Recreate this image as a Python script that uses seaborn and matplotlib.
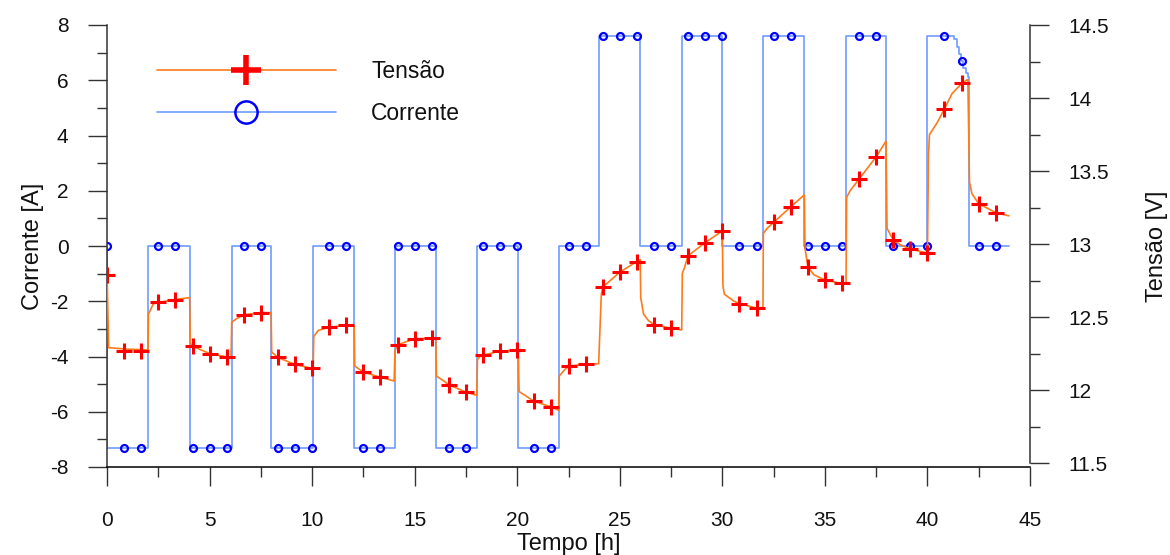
import numpy as np
import pandas as pd
import matplotlib
matplotlib.use("Agg")
import matplotlib.pyplot as plt
from matplotlib.lines import Line2D
from matplotlib.ticker import MultipleLocator
import seaborn as sns

# ---------------- data ----------------
# Current (A): step breakpoints (steps-post)
cur_t = [0, 0, 2.02, 4.05, 6.07, 8.02, 10.06, 12.06, 14.02, 16.04, 18.05, 20.06,
         22.04, 23.97, 26.0, 28.03, 30.0, 31.98, 34.0, 36.05, 38.0, 40.0,
         41.3, 41.45, 41.55, 41.64, 41.75, 41.9, 42.0, 42.03, 43.98]
cur_v = [0, -7.33, 0, -7.33, 0, -7.33, 0, -7.33, 0, -7.33, 0, -7.33,
         0, 7.6, 0, 7.6, 0, 7.6, 0, 7.6, 0, 7.6,
         7.5, 7.22, 6.95, 6.68, 6.45, 6.26, 6.13, 0, 0]

# marker samples (every 50 min)
mk_t = [0, 0.83, 1.67, 2.5, 3.33, 4.17, 5.0, 5.83, 6.67, 7.5, 8.33, 9.17, 10.0,
        10.83, 11.67, 12.5, 13.33, 14.17, 15.0, 15.83, 16.67, 17.5, 18.33, 19.17,
        20.0, 20.83, 21.67, 22.5, 23.33, 24.17, 25.0, 25.83, 26.67, 27.5, 28.33,
        29.17, 30.0, 30.83, 31.67, 32.5, 33.33, 34.17, 35.0, 35.83, 36.67, 37.5,
        38.33, 39.17, 40.0, 40.83, 41.67, 42.5, 43.33]
mk_cur = [0, -7.33, -7.33, 0, 0, -7.33, -7.33, -7.33, 0, 0, -7.33, -7.33, -7.33,
          0, 0, -7.33, -7.33, 0, 0, 0, -7.33, -7.33, 0, 0,
          0, -7.33, -7.33, 0, 0, 7.6, 7.6, 7.6, 0, 0, 7.6,
          7.6, 7.6, 0, 0, 7.6, 7.6, 0, 0, 0, 7.6, 7.6,
          0, 0, 0, 7.6, 6.68, 0, 0]
mk_volt = [12.79, 12.27, 12.27, 12.60, 12.62, 12.30, 12.25, 12.227, 12.516, 12.53,
           12.223, 12.175, 12.148, 12.43, 12.443, 12.123, 12.087, 12.31, 12.351,
           12.355, 12.035, 11.986, 12.238, 12.267, 12.272, 11.922, 11.884, 12.164,
           12.177, 12.705, 12.807, 12.88, 12.448, 12.423, 12.92, 13.01, 13.09,
           12.592, 12.561, 13.148, 13.254, 12.843, 12.753, 12.73, 13.446, 13.597,
           13.03, 12.965, 12.938, 13.926, 14.10, 13.276, 13.215]

# Voltage (V) trace
volt_t = [0.0, 0.08, 1.0, 2.0,
          2.02, 2.26, 2.5, 3.33, 4.03,
          4.06, 4.17, 5.0, 5.83, 6.05,
          6.08, 6.3, 6.67, 7.5, 8.0,
          8.03, 8.33, 9.17, 10.0, 10.05,
          10.08, 10.3, 10.83, 11.67, 12.05,
          12.08, 12.5, 13.33, 14.0,
          14.04, 14.17, 15.0, 15.83, 16.03,
          16.06, 16.4, 16.67, 17.5, 18.03,
          18.06, 18.2, 18.33, 19.17, 20.0, 20.05,
          20.09, 20.83, 21.67, 22.02,
          22.05, 22.3, 22.5, 23.33, 23.97,
          24.1, 24.17, 25.0, 25.83, 26.0,
          26.02, 26.16, 26.4, 26.67, 27.5, 28.02,
          28.05, 28.15, 28.33, 29.17, 30.0,
          30.03, 30.1, 30.55, 30.83, 31.67, 31.98,
          32.0, 32.18, 32.5, 33.33, 34.0,
          34.03, 34.08, 34.17, 34.46, 35.0, 35.83, 36.03,
          36.06, 36.24, 36.67, 37.5, 37.98,
          38.03, 38.2, 38.33, 38.68, 39.17, 40.0,
          40.05, 40.1, 40.47, 40.83, 41.2, 41.67, 41.97,
          42.05, 42.17, 42.5, 43.33, 43.97]
volt_v = [12.81, 12.29, 12.28, 12.275,
          12.52, 12.59, 12.60, 12.62, 12.633,
          12.32, 12.30, 12.25, 12.227, 12.223,
          12.464, 12.487, 12.516, 12.53, 12.53,
          12.26, 12.223, 12.175, 12.148, 12.148,
          12.367, 12.408, 12.43, 12.443, 12.437,
          12.164, 12.123, 12.087, 12.062,
          12.27, 12.31, 12.351, 12.355, 12.358,
          12.096, 12.064, 12.035, 11.986, 11.963,
          12.209, 12.232, 12.238, 12.267, 12.272, 12.272,
          11.99, 11.922, 11.884, 11.861,
          12.096, 12.137, 12.164, 12.177, 12.18,
          12.656, 12.705, 12.807, 12.88, 12.893,
          12.633, 12.52, 12.475, 12.448, 12.423, 12.412,
          12.80, 12.836, 12.92, 13.01, 13.09,
          12.712, 12.656, 12.61, 12.592, 12.561, 12.554,
          13.073, 13.107, 13.148, 13.254, 13.337,
          12.97, 12.927, 12.843, 12.79, 12.753, 12.73, 12.73,
          13.32, 13.367, 13.446, 13.597, 13.705,
          13.107, 13.062, 13.03, 12.995, 12.965, 12.938,
          13.615, 13.75, 13.83, 13.926, 14.03, 14.10, 14.127,
          13.423, 13.344, 13.276, 13.215, 13.193]

x_ticks = [0, 5, 10, 15, 20, 25, 30, 35, 40, 45]
left_ticks = [-8, -6, -4, -2, 0, 2, 4, 6, 8]
right_ticks = [11.5, 12, 12.5, 13, 13.5, 14, 14.5]
right_labels = ['11.5', '12', '12.5', '13', '13.5', '14', '14.5']

# ---------------- style ----------------
sns.set_theme(style="white")
plt.rcParams['font.family'] = ['Liberation Sans', 'DejaVu Sans']
plt.rcParams['axes.unicode_minus'] = False

ORANGE = '#ff7a1a'
LBLUE = '#6f9cff'

fig = plt.figure(figsize=(11.7, 5.55), dpi=100)
ax = fig.add_axes([107/1170, 88/555, 923/1170, 442/555])
ax2 = ax.twinx()

cur_df = pd.DataFrame({'t': cur_t, 'I': cur_v})
mk_df = pd.DataFrame({'t': mk_t, 'I': mk_cur, 'V': mk_volt})
volt_df = pd.DataFrame({'t': volt_t, 'V': volt_v})

sns.lineplot(data=cur_df, x='t', y='I', ax=ax, estimator=None, sort=False,
             color=LBLUE, linewidth=1.2, drawstyle='steps-post')
sns.lineplot(data=mk_df, x='t', y='I', ax=ax, estimator=None, sort=False,
             linestyle='', marker='o', markersize=5, markerfacecolor='none',
             markeredgecolor='blue', markeredgewidth=1.6, color='blue')

sns.lineplot(data=volt_df, x='t', y='V', ax=ax2, estimator=None, sort=False,
             color=ORANGE, linewidth=1.2)
sns.lineplot(data=mk_df, x='t', y='V', ax=ax2, estimator=None, sort=False,
             linestyle='', marker='+', markersize=11, markeredgecolor='red',
             markeredgewidth=2.2, color='red')

# axes limits
ax.set_xlim(0, 45)
ax.set_ylim(-8, 8)
ax2.set_ylim(11.5 - 4/147.3, 14.5 - 4/147.3)

# ticks
ax.set_xticks(x_ticks)
ax.set_xticklabels([str(v) for v in x_ticks])
ax.xaxis.set_minor_locator(MultipleLocator(2.5))
ax.set_yticks(left_ticks)
ax.set_yticklabels([str(v) for v in left_ticks])
ax.yaxis.set_minor_locator(MultipleLocator(1))
ax2.set_yticks(right_ticks)
ax2.set_yticklabels(right_labels)
ax2.yaxis.set_minor_locator(MultipleLocator(0.25))

ax.tick_params(axis='both', which='major', direction='out', length=13.7, width=1,
               color='#333333', labelsize=15, bottom=True, left=True,
               labelcolor='#111111')
ax.tick_params(axis='both', which='minor', direction='out', length=7.2, width=1,
               color='#333333', bottom=True, left=True)
ax.tick_params(axis='y', which='major', pad=14)
ax.tick_params(axis='x', which='major', pad=18)
ax2.tick_params(axis='y', which='major', direction='out', length=13.7, width=1,
                color='#333333', labelsize=15, pad=14, right=True,
                labelcolor='#111111')
ax2.tick_params(axis='y', which='minor', direction='out', length=7.2, width=1,
                color='#333333', right=True)

for s in ['top', 'right']:
    ax.spines[s].set_visible(False)
for s in ['top', 'left', 'bottom']:
    ax2.spines[s].set_visible(False)
ax.spines['left'].set_color('#333333')
ax.spines['bottom'].set_color('black')
ax2.spines['right'].set_color('#333333')
ax2.spines['right'].set_bounds(11.5, 14.5)
for s in [ax.spines['left'], ax.spines['bottom'], ax2.spines['right']]:
    s.set_linewidth(1.1)

ax.set_xlabel('Tempo [h]', fontsize=17, color='#111111')
ax.set_ylabel('Corrente [A]', fontsize=17, color='#111111')
ax2.set_ylabel('Tensão [V]', fontsize=17, color='#111111')
ax.xaxis.set_label_coords(0.5, -0.15)
ax.yaxis.set_label_coords(-0.068, 0.5)
ax2.yaxis.set_label_coords(1.126, 0.5)

handles = [
    Line2D([], [], color=ORANGE, lw=1.2, marker='+', markersize=22,
           markeredgewidth=4, markeredgecolor='red'),
    Line2D([], [], color=LBLUE, lw=1.2, marker='o', markersize=16,
           markerfacecolor='none', markeredgecolor='blue', markeredgewidth=1.8),
]
leg = ax2.legend(handles, ['Tensão', 'Corrente'], loc='upper left',
                 bbox_to_anchor=(0.054, 0.92), frameon=False, fontsize=16.5,
                 handlelength=7.8, handletextpad=1.55, labelspacing=0.82,
                 borderpad=0, borderaxespad=0, numpoints=1)
for t in leg.get_texts():
    t.set_color('#111111')

ax.set_zorder(1)
ax2.set_zorder(2)
ax2.patch.set_visible(False)

fig.savefig('out.png', dpi=100)
